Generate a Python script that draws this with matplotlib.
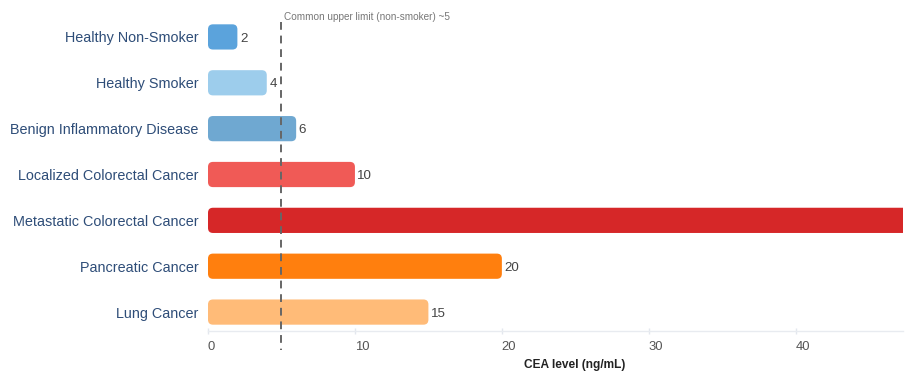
import matplotlib
matplotlib.use("Agg")
import matplotlib.pyplot as plt
from matplotlib.patches import FancyBboxPatch

plt.rcParams["font.family"] = ["Liberation Sans", "DejaVu Sans"]

categorias = [
    "Healthy Non-Smoker",
    "Healthy Smoker",
    "Benign Inflammatory Disease",
    "Localized Colorectal Cancer",
    "Metastatic Colorectal Cancer",
    "Pancreatic Cancer",
    "Lung Cancer",
]
valores = [2, 4, 6, 10, 50, 20, 15]
colores = ["#5BA3DC", "#9DCDEC", "#6FA8D1", "#F05A56", "#D62728", "#FF7F0E", "#FFBB78"]
limite_normal = 5
xticks = [0, 10, 20, 30, 40]

fig = plt.figure(figsize=(9.1, 3.79), dpi=100)
top_px, bot_px = 14, 331
ax = fig.add_axes([208 / 910, 1 - bot_px / 379, 695 / 910, (bot_px - top_px) / 379])

n = len(categorias)
alto = 0.55
px_y = 45.85
ax.set_xlim(0, 47.3)
ax.set_ylim(n - 0.5 - 4 / px_y, -0.5)

# barras con esquinas redondeadas (radio ~5 px en ambos ejes)
px_x = 695 / 47.3
r = 5 / px_x
aspecto = (5 / px_y) / r
for i, (v, c) in enumerate(zip(valores, colores)):
    caja = FancyBboxPatch((0, i - alto / 2), v, alto,
                          boxstyle=f"round,pad=0,rounding_size={r}",
                          mutation_aspect=aspecto, facecolor=c, edgecolor="none",
                          clip_on=True, zorder=2)
    ax.add_patch(caja)
    if v < ax.get_xlim()[1]:
        ax.text(v + 0.17, i + 0.035, f"{v}", va="center", ha="left", fontsize=9.6,
                color="#444444", zorder=3)

ax.set_yticks(range(n))
ax.set_yticklabels(categorias, fontsize=10.4, color="#2E4D78")
ax.tick_params(axis="y", length=0, pad=7)

ax.set_xticks(xticks)
ax.set_xticklabels([str(t) for t in xticks], fontsize=9.4, color="#555555", ha="left")
ax.tick_params(axis="x", length=5, direction="inout", color="#E3E7EE", width=1, pad=5)
ax.set_xlabel("CEA level (ng/mL)", fontsize=8.6, fontweight="bold", color="#222222", va="center")
ax.xaxis.set_label_coords((575 - 208) / 695, -(365 - bot_px) / (bot_px - top_px))

for s in ["top", "right", "left"]:
    ax.spines[s].set_visible(False)
ax.spines["bottom"].set_color("#E8EBF0")
ax.spines["bottom"].set_linewidth(1)

# línea de referencia (límite superior en no fumadores)
y_fin = n - 0.5 - 4 / px_y + (350 - bot_px) / px_y
ax.plot([limite_normal, limite_normal], [-0.5 + 8 / px_y, y_fin],
        color="#666666", ls=(0, (4, 3)), lw=1.4, clip_on=False, zorder=4)
ax.text(limite_normal + 0.2, -0.5 + 8 / px_y, f"Common upper limit (non-smoker) ~{limite_normal}",
        fontsize=7.2, color="#777777", va="bottom", ha="left")

fig.savefig("out.png", dpi=100)
